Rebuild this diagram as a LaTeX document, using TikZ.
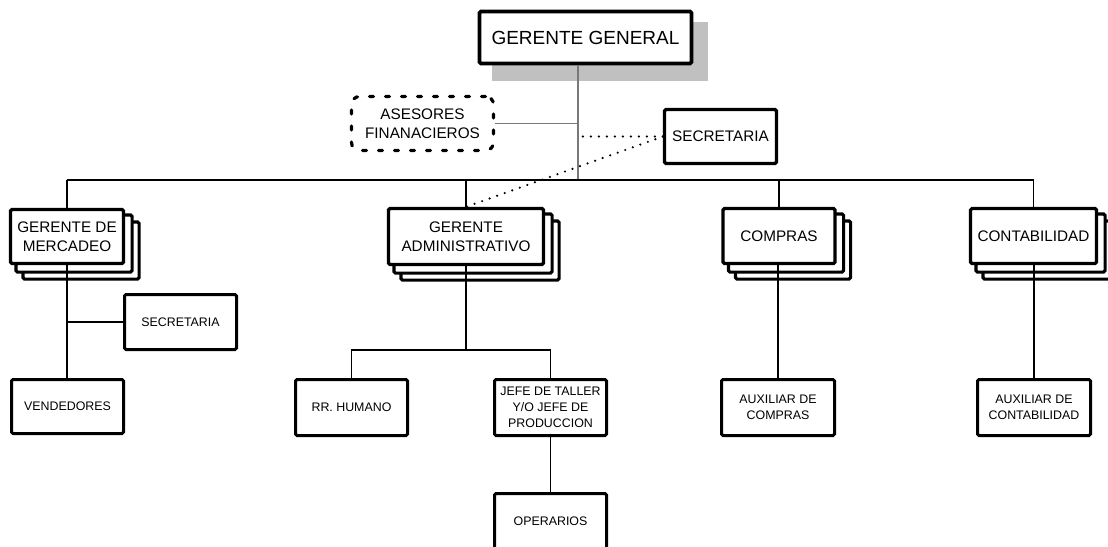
\documentclass[tikz,border=0pt]{standalone}
\usepackage{fontspec}
\setmainfont{Liberation Sans}
\usetikzlibrary{calc,backgrounds}
\definecolor{shadowgray}{RGB}{192,192,192}
\definecolor{linkgray}{RGB}{120,120,120}
\tikzset{
  unitbox/.style={draw=black, fill=white, line width=3.2pt, rounded corners=1.5pt,
    align=center, inner sep=0pt, text=black},
  topbox/.style={unitbox, line width=3.6pt, font=\fontsize{19}{22}\selectfont},
  midbox/.style={unitbox, font=\fontsize{15.3}{18.5}\selectfont},
  smallbox/.style={unitbox, line width=3pt, font=\fontsize{12.4}{16}\selectfont},
  advisorbox/.style={midbox, fill=none, line width=3.2pt, line cap=round,
    dash pattern=on 4pt off 12pt, rounded corners=8pt},
  layer/.style={draw=black, fill=white, line width=3.2pt, rounded corners=1.5pt},
  solidlink/.style={draw=black, line width=1.8pt},
  staff/.style={draw=linkgray, line width=1.3pt},
  dotlink/.style={draw=black, line width=2.4pt, line cap=round, dash pattern=on 0pt off 8pt},
}
\begin{document}
\begin{tikzpicture}[x=1pt, y=-1pt]
\useasboundingbox (0,0) rectangle (1108,546);

% --- units ---
\node[topbox, minimum width=212pt, minimum height=52pt] (gg) at (585.5,37.5) {GERENTE GENERAL};
\node[advisorbox, minimum width=142pt, minimum height=54pt] (ases) at (422.5,123.5) {ASESORES\\FINANACIEROS};
\node[midbox, minimum width=112pt, minimum height=54pt] (sec1) at (720.5,136.5) {SECRETARIA};

\node[midbox, minimum width=113pt, minimum height=54pt] (merc) at (67,236.5) {GERENTE DE\\MERCADEO};
\node[midbox, minimum width=155pt, minimum height=56pt] (admin) at (466,236.5) {GERENTE\\ADMINISTRATIVO};
\node[midbox, minimum width=112pt, minimum height=55pt] (compras) at (779,236) {COMPRAS};
\node[midbox, minimum width=126pt, minimum height=55pt] (contab) at (1033.5,236) {CONTABILIDAD};

\node[smallbox, minimum width=112pt, minimum height=55pt] (sec2) at (180.5,322) {SECRETARIA};
\node[smallbox, minimum width=112pt, minimum height=54pt] (vend) at (67.5,406.5) {VENDEDORES};
\node[smallbox, minimum width=112pt, minimum height=56pt] (rr) at (351.5,407.5) {RR. HUMANO};
\node[smallbox, minimum width=112pt, minimum height=56pt] (jefe) at (550.5,407.5) {JEFE DE TALLER\\Y/O JEFE DE\\PRODUCCION};
\node[smallbox, minimum width=112pt, minimum height=56pt] (oper) at (550.5,521.5) {OPERARIOS};
\node[smallbox, minimum width=113pt, minimum height=56pt] (auxc) at (778,407.5) {AUXILIAR DE\\COMPRAS};
\node[smallbox, minimum width=113pt, minimum height=56pt] (auxct) at (1034,407.5) {AUXILIAR DE\\CONTABILIDAD};

% --- shadow of the top box and stacked sheets behind the department boxes ---
\begin{scope}[on background layer]
  \fill[shadowgray] ($(gg.south west)+(14,16)$) rectangle ($(gg.north east)+(15,12)$);
  \foreach \n in {merc,admin,compras,contab}{
    \draw[layer] ($(\n.south west)+(14,14)$) rectangle ($(\n.north east)+(14,14)$);
    \draw[layer] ($(\n.south west)+(7,7)$) rectangle ($(\n.north east)+(7,7)$);
  }
\end{scope}

% --- connectors ---
\coordinate (trunk) at (578,180);
\coordinate (adminsplit) at (466,350);

\draw[staff] (gg.south -| trunk) -- (trunk);
\draw[staff] (ases.east) -- (ases.east -| trunk);
\draw[dotlink] (sec1.west) -- (sec1.west -| trunk);
\draw[dotlink] (sec1.west) -- (admin.north);

\draw[solidlink, line width=2pt] (merc.north |- trunk) -- (contab.north |- trunk);
\draw[solidlink] (merc.north |- trunk) -- (merc.north);
\draw[solidlink] (admin.north |- trunk) -- (admin.north);
\draw[solidlink] (compras.north |- trunk) -- (compras.north);
\draw[solidlink] (contab.north |- trunk) -- (contab.north);

\draw[solidlink] (merc.south) -- (merc.south |- vend.north);
\draw[solidlink] (merc.south |- sec2.west) -- (sec2.west);

\draw[solidlink] (admin.south) -- (adminsplit);
\draw[solidlink] (rr.north) -- (rr.north |- adminsplit) -- (jefe.north |- adminsplit) -- (jefe.north);
\draw[solidlink] (jefe.south) -- (oper.north);

\draw[solidlink] (auxc.north |- compras.south) -- (auxc.north);
\draw[solidlink] (auxct.north |- contab.south) -- (auxct.north);
\end{tikzpicture}
\end{document}
